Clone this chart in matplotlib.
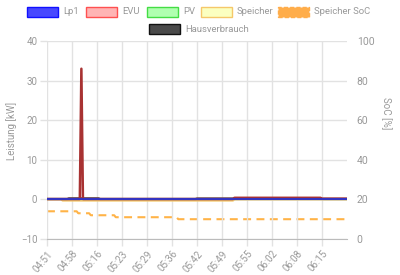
import matplotlib
matplotlib.use("Agg")
import matplotlib.pyplot as plt
from matplotlib.patches import Rectangle

plt.rcParams['font.family'] = ['Roboto', 'DejaVu Sans']

# ---- data (category index axis, one value per sample) ----
tick_labels = ["04:51", "04:58", "05:16", "05:23", "05:29", "05:36",
               "05:42", "05:49", "05:55", "06:02", "06:08", "06:15"]
n_points = 193
tick_step = 16

lp1 = [0.0] * 193
evu = [0.1] * 22 + [33.0] + [0.1] * 97 + [0.4] * 56 + [0.2] * 17
pv = [0.0] * 193
speicher = [0.0] * 10 + [-0.3] * 110 + [0.0] * 73
hausverbrauch = [0.1] * 14 + [0.3] * 20 + [0.1] * 62 + [0.25] * 24 + [0.3] * 56 + [0.1] * 17
soc = [14] * 20 + [13] * 8 + [12] * 16 + [11] * 40 + [10] * 109

labels = ["Lp1", "EVU", "PV", "Speicher", "Speicher SoC", "Hausverbrauch"]

W, H = 400, 275
fig = plt.figure(figsize=(4, 2.75), dpi=100)
ax = fig.add_axes([47 / W, 1 - 239 / H, 300 / W, 198 / H])
ax2 = ax.twinx()

x = list(range(n_points))
grey = '#999999'
gridc = '#e2e2e2'

# right axis (SoC)
ax2.plot(x, soc, color='#ffb347', lw=1.5, linestyle=(0, (3.8, 2.6)), zorder=2)
ax2.set_ylim(0, 100)
ax2.set_yticks([0, 20, 40, 60, 80, 100])

ax.set_zorder(ax2.get_zorder() + 1)
ax.patch.set_visible(False)

ax.plot(x, speicher, color='#f5c86a', lw=1.5, zorder=3)
ax.plot(x, pv, color='#55cc55', lw=1.5, zorder=3)
ax.plot(x, hausverbrauch, color='#555555', lw=1.5, zorder=4)
ax.plot(x, evu, color='#a83232', lw=1.8, zorder=5)
ax.plot(x, lp1, color='#3434c0', lw=1.5, zorder=6)

ax.set_xlim(0, n_points - 1)
ax.set_ylim(-10, 40)
ax.set_yticks([-10, 0, 10, 20, 30, 40])
ax.set_xticks(list(range(0, len(tick_labels) * tick_step, tick_step)))
ax.set_xticklabels(tick_labels, rotation=50, ha='right', va='top',
                   rotation_mode='anchor')

ax.grid(True, color=gridc, lw=1)
ax.axhline(0, color='#bbbbbb', lw=1, zorder=1)
for s in ['top', 'right', 'left']:
    ax.spines[s].set_visible(False)
for s in ['top', 'right', 'left', 'bottom']:
    ax2.spines[s].set_visible(False)
ax.spines['bottom'].set_color('#bbbbbb')

ax.tick_params(axis='both', colors=gridc, labelcolor=grey, labelsize=7,
               length=5, width=1, pad=2)
ax2.tick_params(axis='y', length=0, labelcolor=grey, labelsize=7.5, pad=7)

fig.text(12 / W, 1 - 131 / H, "Leistung [kW]", rotation=90, color=grey,
         fontsize=7, ha='center', va='center')
fig.text(386 / W, 1 - 113 / H, "SoC [%]", rotation=270, color=grey,
         fontsize=7, ha='center', va='center')

# ---- legend drawn manually ----
leg = [
    ("Lp1", 27, 7, '#4848ff', '#1010ff', '-'),
    ("EVU", 86, 7, '#ffb4b4', '#ff5050', '-'),
    ("PV", 147, 7, '#b0ffb0', '#44dd44', '-'),
    ("Speicher", 201, 7, '#fbffc0', '#f5c86a', '-'),
    ("Speicher SoC", 278, 7, '#ffad4a', '#ffad4a', (0, (3, 1.5))),
    ("Hausverbrauch", 149, 24, '#4a4a4a', '#111111', '-'),
]
for name, lx, ly, fc, ec, ls in leg:
    r = Rectangle((lx / W, 1 - (ly + 10) / H), 31 / W, 10 / H,
                  transform=fig.transFigure, facecolor=fc, edgecolor=ec,
                  lw=1, linestyle=ls)
    fig.add_artist(r)
    fig.text((lx + 36) / W, 1 - (ly + 5) / H, name, color=grey, fontsize=6.8,
             ha='left', va='center')

fig.savefig("out.png", dpi=100)
